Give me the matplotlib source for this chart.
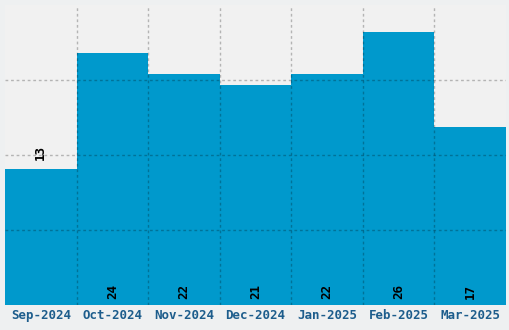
import matplotlib.pyplot as plt
import numpy as np

months = ["Sep-2024", "Oct-2024", "Nov-2024", "Dec-2024", "Jan-2025", "Feb-2025", "Mar-2025"]
counts = [13, 24, 22, 21, 22, 26, 17]
label_above = [True, False, False, False, False, False, False]

plt.rcParams['font.family'] = ['DejaVu Sans Mono']

fig = plt.figure(figsize=(5.1, 3.3), dpi=100)
fig.patch.set_facecolor("#eef0f1")
ax = fig.add_axes([5 / 510, 25 / 330, 501 / 510, 300 / 330])
ax.set_facecolor("#f1f1f1")

x = np.arange(len(months))
ax.bar(x, counts, width=1.0, color="#0099cc", zorder=1)

ymax = max(counts) * 1.1
ax.set_xlim(-0.5, len(months) - 0.5)
ax.set_ylim(0, ymax)
ax.set_yticks(np.linspace(0, ymax, 5)[1:-1])
ax.set_xticks(x)
ax.set_xticks(x[:-1] + 0.5, minor=True)
ax.set_xticklabels(months, fontsize=9, fontweight="bold", color="#1d5d8c")
ax.tick_params(axis="x", which="both", length=0, pad=3)
ax.tick_params(axis="y", length=0, labelleft=False)

grid_kw = dict(color="#000000", alpha=0.25, linestyle=(0, (2, 2)), linewidth=1, zorder=3)
ax.grid(True, axis="y", **grid_kw)
ax.grid(True, axis="x", which="minor", **grid_kw)
ax.grid(False, axis="x", which="major")
ax.set_axisbelow(False)

for s in ax.spines.values():
    s.set_visible(False)

for xi, v, above in zip(x, counts, label_above):
    if above:
        ax.annotate(str(v), (xi, v), xytext=(0, 6), textcoords="offset points",
                    rotation=90, ha="center", va="bottom", fontsize=9,
                    fontweight="bold", color="black", zorder=4)
    else:
        ax.annotate(str(v), (xi, 0), xytext=(0, 4), textcoords="offset points",
                    rotation=90, ha="center", va="bottom", fontsize=9,
                    fontweight="bold", color="black", zorder=4)

fig.savefig("out.png", dpi=100, facecolor=fig.get_facecolor())
